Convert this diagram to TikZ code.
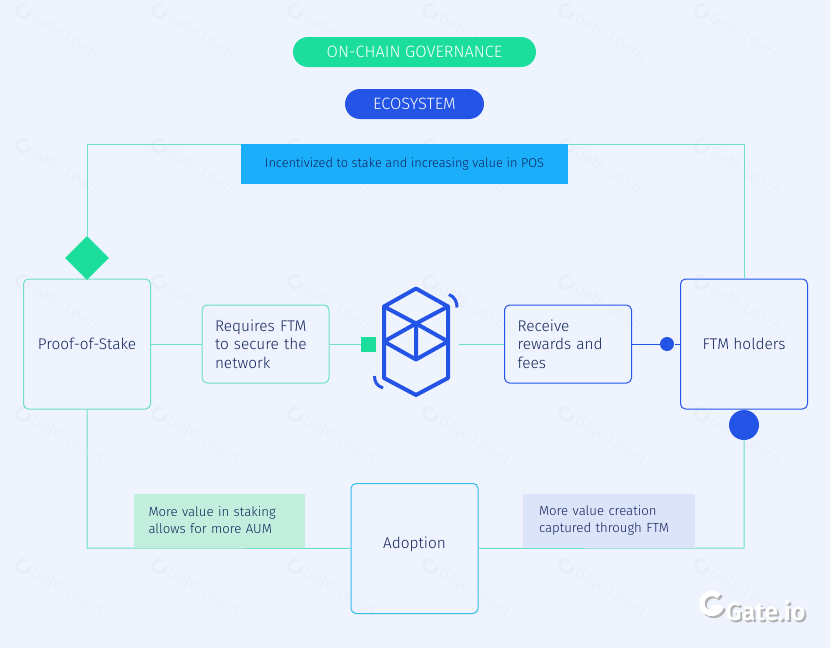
\documentclass[tikz,border=0pt]{standalone}
\usepackage{fontspec}
\setmainfont{Fira Sans Light}[BoldFont=Fira Sans SemiBold]
\usetikzlibrary{shapes.geometric}
\definecolor{pagebg}{HTML}{EFF3FE}
\definecolor{mint}{HTML}{1BDE9C}
\definecolor{royal}{HTML}{2354E6}
\definecolor{sky}{HTML}{1AAEFB}
\definecolor{navy}{HTML}{12235A}
\definecolor{frameline}{HTML}{6CE0C6}
\definecolor{wmark}{HTML}{E9EDF9}
\definecolor{minttag}{HTML}{C2EFDD}
\definecolor{bluetag}{HTML}{DCE4FA}
\begin{document}
\begin{tikzpicture}[x=1pt, y=-1pt, line width=1pt,
	box/.style = {draw, rounded corners=5pt, text=navy, minimum width=127pt, font=\fontsize{15.4}{18.5}\selectfont},
	main/.style = {box, minimum height=130pt},
	small/.style = {box, minimum height=78pt, text width=101pt, align=left},
	pill/.style = {rounded corners=15pt, minimum height=30pt, text=white, font=\fontsize{16.4}{18}\selectfont},
	tag/.style = {text=navy, inner sep=0pt, font=\fontsize{13.2}{17}\selectfont},
	link/.style = {draw=frameline}]

	\fill[pagebg] (0,0) rectangle (830,648);
	\useasboundingbox (0,0) rectangle (830,648);

	% watermarks
	\foreach \xa in {17,153,289,424,560,695} {
		\foreach \ya in {11,146,282,414,566} {
			\draw[wmark, line width=2.5pt] (\xa+13,\ya) arc (0:300:6.5);
			\node[text=wmark, rotate=-32, anchor=west, inner sep=0pt, font=\fontsize{17}{17}\selectfont] (wm) at (\xa+16,\ya+4) {Gate Learn};
		}
	}

	\node[pill, fill=mint, minimum width=243pt] (gov) at (414.5,52) {ON-CHAIN GOVERNANCE};
	\node[pill, fill=royal, minimum width=139pt] (eco) at (414.5,104) {ECOSYSTEM};

	\node[main, draw=frameline] (pos) at (87,344) {Proof-of-Stake};
	\node[main, draw=royal] (holders) at (744,344) {FTM holders};
	\node[main, draw=sky!70!frameline] (adopt) at (414.5,548.5) {\raisebox{0pt}[0pt][0pt]{Adoption}};
	\node[small, draw=frameline] (req) at (265.5,344) {Requires FTM\\to secure the\\network};
	\node[small, draw=royal] (recv) at (568,344) {Receive\\rewards and\\fees};

	\node[diamond, fill=mint, inner sep=0pt, minimum width=44pt, minimum height=44pt] (gem) at (87,258) {};
	\node[circle, fill=royal, inner sep=0pt, minimum size=30pt] (bigdot) at (744,425) {};
	\node[circle, fill=royal, inner sep=0pt, minimum size=14pt] (dot) at (667,344) {};
	\node[fill=mint, inner sep=0pt, minimum size=15pt] (sq) at (368.5,344) {};
	\node[inner sep=0pt, minimum width=84pt, minimum height=108pt] (fantom) at (416,344) {};

	\draw[link] (gem) -- (87,144) -- (744,144) -- (holders);
	\draw[link] (pos) -- (87,548) -- (adopt);
	\draw[link] (adopt) -- (744,548) -- (bigdot);
	\draw[link] (pos) -- (req);
	\draw[link] (req) -- (sq);
	\draw[link] (fantom) -- (recv);
	\draw[royal] (recv) -- (dot);
	\draw[royal] (dot) -- (holders);

	\node[tag, fill=sky, minimum width=327pt, minimum height=40pt, font=\fontsize{12.8}{17}\selectfont] (incent) at (404.5,164) {Incentivized to stake and increasing value in POS};
	\node[tag, fill=minttag, minimum width=171pt, minimum height=54pt, align=left, text width=142pt] (stake) at (219.5,520.5) {More value in staking\\allows for more AUM};
	\node[tag, fill=bluetag, minimum width=172pt, minimum height=54pt, align=left, text width=140pt] (capture) at (609,520.5) {More value creation\\captured through FTM};

	% token mark
	\draw[royal, line width=4pt, line join=round, line cap=round]
		(416,288.5) -- (448,306.5) -- (448,378) -- (416,395) -- (384,378) -- (384,306.5) -- cycle
		(384,306.5) -- (416,323.5) -- (448,306.5)
		(384,341.5) -- (416,323.5) -- (448,341.5) -- (416,359.5) -- (384,341.5)
		(416,323.5) -- (416,359.5);
	\draw[royal, line width=3pt] (449,294.5) .. controls (455,297) and (457,302) .. (457,307.5);
	\draw[royal, line width=3pt] (374.5,376) .. controls (374.5,382) and (377,386) .. (383,388);

	% gate logo
	\draw[black!30, line width=5.5pt] (723.5,608) arc (15:315:10);
	\node[text=black!30, anchor=west, inner sep=0pt, font=\fontsize{25}{25}\bfseries\selectfont] (shade) at (727,612.5) {Gate.io};
	\draw[white, line width=5.5pt] (721.5,606) arc (15:315:10);
	\fill[white] (711,605) rectangle (720,610);
	\node[text=white, anchor=west, inner sep=0pt, font=\fontsize{25}{25}\bfseries\selectfont] (gate) at (725,610.5) {Gate.io};
\end{tikzpicture}
\end{document}
